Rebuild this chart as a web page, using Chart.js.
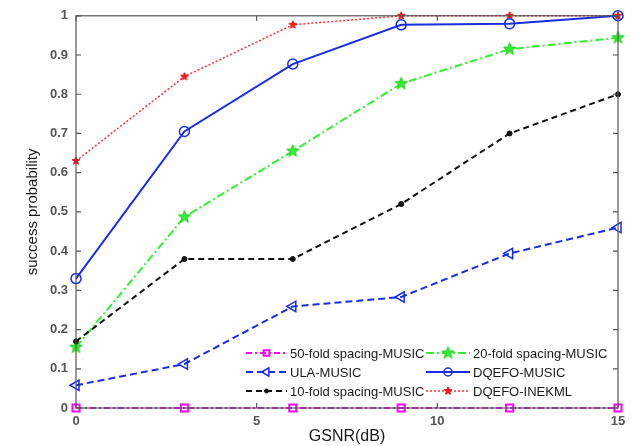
<!DOCTYPE html>
<html>
<head>
<meta charset="utf-8">
<script src="https://cdn.jsdelivr.net/npm/chart.js@4.4.1/dist/chart.umd.min.js"></script>
<style>
  html, body { margin: 0; padding: 0; background: #fff; }
  #wrap { width: 633px; height: 446px; }
</style>
</head>
<body>
<div id="wrap"><canvas id="chart" width="633" height="446"></canvas></div>
<script>
// data
const gsnr = [0, 3, 6, 9, 12, 15];
const fold50Music = [0, 0, 0, 0, 0, 0];
const ulaMusic = [0.058, 0.112, 0.259, 0.283, 0.394, 0.46];
const fold10Music = [0.17, 0.38, 0.38, 0.52, 0.70, 0.80];
const fold20Music = [0.155, 0.487, 0.655, 0.827, 0.915, 0.944];
const dqefoMusic = [0.33, 0.705, 0.877, 0.977, 0.98, 1.0];
const dqefoInekml = [0.63, 0.845, 0.977, 1.0, 1.0, 1.0];
const xTicks = [0, 5, 10, 15];

function pentagram(size, fill, stroke) {
    const c = document.createElement('canvas');
    c.width = size; c.height = size;
    const g = c.getContext('2d');
    const cx = size / 2, cy = size / 2, R = size / 2 - 1, r = R * 0.42;
    g.beginPath();
    for (let i = 0; i < 10; i++) {
        const a = -Math.PI / 2 + i * Math.PI / 5;
        const rr = i % 2 ? r : R;
        g.lineTo(cx + rr * Math.cos(a), cy + rr * Math.sin(a));
    }
    g.closePath();
    g.fillStyle = fill; g.fill();
    g.strokeStyle = stroke; g.lineWidth = 1; g.stroke();
    return c;
}

const greenStar = pentagram(15, '#33ee33', '#22cc22');
const redStar = pentagram(10, '#ff2020', '#e00000');
const none = 'rgba(0,0,0,0)';

function pts(ys) { return gsnr.map((x, i) => ({ x: x, y: ys[i] })); }

const datasets = [
    { label: '50-fold spacing-MUSIC', data: pts(fold50Music), borderColor: '#ff00ff', borderDash: [6, 3, 2, 3], borderWidth: 2,
      pointStyle: 'rect', pointRadius: 5, pointBorderWidth: 2, pointBorderColor: '#ff00ff', pointBackgroundColor: none },
    { label: 'ULA-MUSIC', data: pts(ulaMusic), borderColor: '#1a2ee0', borderDash: [7, 4], borderWidth: 2,
      pointStyle: 'triangle', rotation: -90, pointRadius: 6, pointBorderWidth: 1.5, pointBorderColor: '#1a2ee0', pointBackgroundColor: none },
    { label: '10-fold spacing-MUSIC', data: pts(fold10Music), borderColor: '#111', borderDash: [6, 4], borderWidth: 2,
      pointStyle: 'circle', pointRadius: 2.5, pointBorderWidth: 1, pointBorderColor: '#111', pointBackgroundColor: '#111' },
    { label: '20-fold spacing-MUSIC', data: pts(fold20Music), borderColor: '#33ee33', borderDash: [8, 3, 2, 3], borderWidth: 2,
      pointStyle: greenStar, pointRadius: 7 },
    { label: 'DQEFO-MUSIC', data: pts(dqefoMusic), borderColor: '#1a2ee0', borderWidth: 2,
      pointStyle: 'circle', pointRadius: 5, pointBorderWidth: 1.5, pointBorderColor: '#1a2ee0', pointBackgroundColor: none },
    { label: 'DQEFO-INEKML', data: pts(dqefoInekml), borderColor: '#ff3030', borderDash: [2, 2], borderWidth: 1.5,
      pointStyle: redStar, pointRadius: 5 }
];
datasets.forEach(d => { d.clip = false; d.tension = 0; d.fill = false; });

// MATLAB-like frame with inward ticks
const framePlugin = {
    id: 'frame',
    afterDraw(chart) {
        const { ctx, chartArea: a, scales } = chart;
        ctx.save();
        ctx.strokeStyle = '#555';
        ctx.lineWidth = 1.2;
        ctx.strokeRect(a.left, a.top, a.right - a.left, a.bottom - a.top);
        ctx.beginPath();
        scales.x.ticks.forEach(t => {
            const px = scales.x.getPixelForValue(t.value);
            ctx.moveTo(px, a.bottom); ctx.lineTo(px, a.bottom - 5);
            ctx.moveTo(px, a.top); ctx.lineTo(px, a.top + 5);
        });
        scales.y.ticks.forEach(t => {
            const py = scales.y.getPixelForValue(t.value);
            ctx.moveTo(a.left, py); ctx.lineTo(a.left + 5, py);
            ctx.moveTo(a.right, py); ctx.lineTo(a.right - 5, py);
        });
        ctx.stroke();
        ctx.restore();
    }
};

// two-column legend like the original figure
const legendPlugin = {
    id: 'twoColLegend',
    afterDatasetsDraw(chart) {
        const ctx = chart.ctx;
        const cols = [{ x0: 246, x1: 287, tx: 290 }, { x0: 426, x1: 470, tx: 473 }];
        const rows = [353, 372, 391];
        ctx.save();
        ctx.font = '13px "Liberation Sans", Arial, sans-serif';
        ctx.textBaseline = 'middle';
        chart.data.datasets.forEach((d, i) => {
            const c = cols[Math.floor(i / 3)];
            const y = rows[i % 3];
            ctx.save();
            ctx.strokeStyle = d.borderColor;
            ctx.lineWidth = d.borderWidth;
            ctx.setLineDash(d.borderDash || []);
            ctx.beginPath(); ctx.moveTo(c.x0, y); ctx.lineTo(c.x1, y); ctx.stroke();
            ctx.setLineDash([]);
            ctx.strokeStyle = d.pointBorderColor || d.borderColor;
            ctx.fillStyle = d.pointBackgroundColor || none;
            ctx.lineWidth = d.pointBorderWidth || 1;
            const mx = (c.x0 + c.x1) / 2;
            Chart.helpers.drawPoint(ctx, {
                pointStyle: d.pointStyle, rotation: d.rotation || 0,
                radius: (d.pointRadius || 3) * 0.8, borderWidth: d.pointBorderWidth || 1
            }, mx, y);
            ctx.restore();
            ctx.fillStyle = '#1a1a1a';
            ctx.fillText(d.label, c.tx, y + 1);
        });
        ctx.restore();
    }
};

const tickFont = { size: 13, weight: 'bold', family: '"Liberation Sans", Arial, sans-serif' };

new Chart(document.getElementById('chart').getContext('2d'), {
    type: 'line',
    data: { datasets: datasets },
    options: {
        responsive: false,
        animation: false,
        layout: { padding: { top: 14, right: 15, left: 0, bottom: 0 } },
        plugins: { legend: { display: false }, tooltip: { enabled: false } },
        scales: {
            x: {
                type: 'linear', min: 0, max: 15,
                afterBuildTicks: s => { s.ticks = xTicks.map(v => ({ value: v })); },
                afterFit: s => { s.height = 38; },
                grid: { display: false, drawTicks: false },
                border: { display: false },
                ticks: { padding: 6, color: '#555', font: tickFont },
                title: { display: true, text: 'GSNR(dB)', color: '#1a1a1a', padding: { top: 0, bottom: 0 },
                         font: { size: 16, family: '"Liberation Sans", Arial, sans-serif' } }
            },
            y: {
                min: 0, max: 1,
                afterFit: s => { s.width = 76; },
                grid: { display: false, drawTicks: false },
                border: { display: false },
                ticks: { stepSize: 0.1, padding: 8, color: '#555', font: tickFont,
                         callback: v => String(Math.round(v * 10) / 10) },
                title: { display: true, text: 'success probability', color: '#1a1a1a', padding: { top: 24, bottom: 0 },
                         font: { size: 15, family: '"Liberation Sans", Arial, sans-serif' } }
            }
        }
    },
    plugins: [framePlugin, legendPlugin]
});
</script>
</body>
</html>
